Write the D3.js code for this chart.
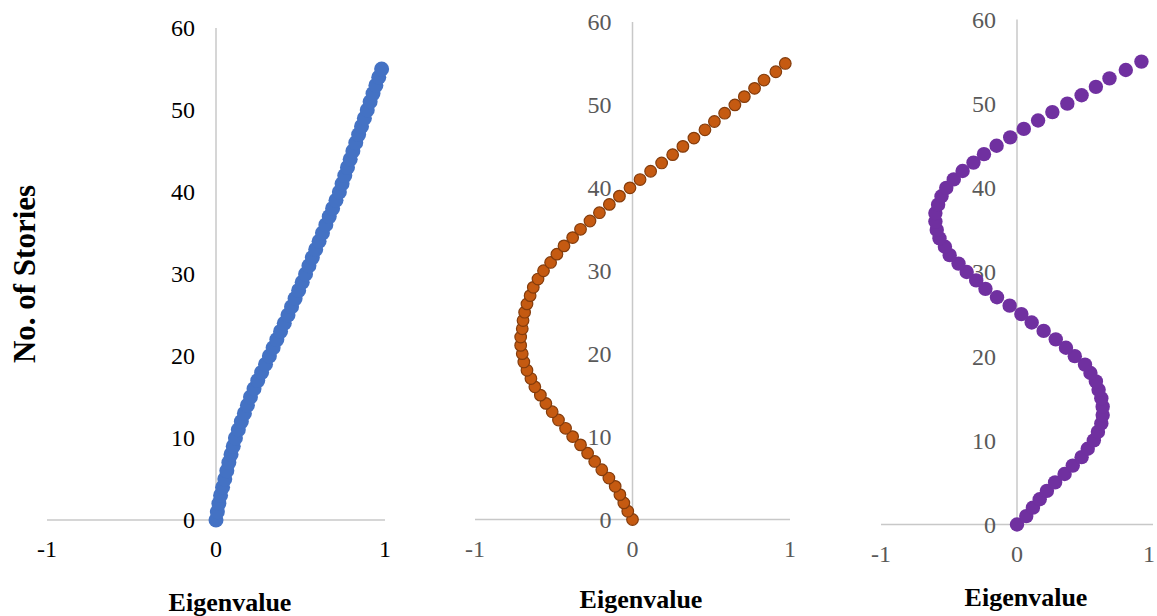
<!DOCTYPE html>
<html>
<head>
<meta charset="utf-8">
<script src="https://cdn.jsdelivr.net/npm/d3@7"></script>
<style>
  html, body { margin: 0; padding: 0; background: #fff; }
  svg { display: block; }
</style>
</head>
<body>
<svg id="chart" width="1157" height="616"></svg>
<script>
// ---- Data ----
const stories = d3.range(0, 56); // 0..55
const mode1 = [0, 0.008, 0.017, 0.027, 0.039, 0.052, 0.064, 0.076, 0.089, 0.102,
  0.115, 0.132, 0.15, 0.168, 0.186, 0.204, 0.225, 0.247, 0.27, 0.293,
  0.316, 0.338, 0.36, 0.382, 0.404, 0.426, 0.447, 0.468, 0.489, 0.51,
  0.53, 0.55, 0.57, 0.59, 0.61, 0.63, 0.65, 0.67, 0.69, 0.71,
  0.73, 0.746, 0.762, 0.778, 0.794, 0.81, 0.827, 0.844, 0.861, 0.878,
  0.895, 0.912, 0.929, 0.946, 0.963, 0.98];
const mode2 = [0, -0.03, -0.055, -0.08, -0.11, -0.15, -0.195, -0.24, -0.285, -0.33,
  -0.38, -0.425, -0.47, -0.51, -0.55, -0.585, -0.62, -0.645, -0.67, -0.69,
  -0.70, -0.71, -0.71, -0.70, -0.695, -0.685, -0.67, -0.65, -0.63, -0.60,
  -0.565, -0.52, -0.48, -0.435, -0.38, -0.33, -0.27, -0.21, -0.147, -0.083,
  -0.016, 0.048, 0.115, 0.185, 0.255, 0.32, 0.39, 0.46, 0.52, 0.585,
  0.65, 0.71, 0.775, 0.835, 0.91, 0.97];
const mode3 = [0, 0.068, 0.117, 0.167, 0.22, 0.28, 0.35, 0.41, 0.475, 0.52,
  0.565, 0.595, 0.62, 0.63, 0.63, 0.62, 0.60, 0.58, 0.54, 0.50,
  0.425, 0.36, 0.285, 0.196, 0.108, 0.032, -0.054, -0.147, -0.232, -0.30,
  -0.37, -0.43, -0.495, -0.53, -0.57, -0.59, -0.60, -0.60, -0.58, -0.555,
  -0.52, -0.465, -0.40, -0.32, -0.243, -0.15, -0.05, 0.05, 0.155, 0.26,
  0.37, 0.475, 0.58, 0.68, 0.80, 0.915];
const xTicks = [-1, 0, 1];
const yTicks = [0, 10, 20, 30, 40, 50, 60];
const xTitle = "Eigenvalue";
const yTitle = "No. of Stories";

// ---- Layout ----
const W = 1157;
const svg = d3.select("#chart");
const serif = "Liberation Serif, Times New Roman, serif";
const panels = [
  { vals: mode1, xr: [47, 385], yr: [520, 28], fill: "#4472C4", stroke: "none", sw: 0, r: 7.5,
    tickColor: "#000000", titleX: 230, titleY: 611 },
  { vals: mode2, xr: [475, 790], yr: [519.5, 22], fill: "#C55A11", stroke: "#843C0C", sw: 1.2, r: 5.8,
    tickColor: "#595959", titleX: 641, titleY: 608 },
  { vals: mode3, xr: [881, 1153], yr: [524.5, 19.5], fill: "#7030A0", stroke: "none", sw: 0, r: 7.2,
    tickColor: "#595959", titleX: 1026, titleY: 606 }
];

panels.forEach(p => {
  const x = d3.scaleLinear().domain([-1, 1]).range(p.xr);
  const y = d3.scaleLinear().domain([0, 60]).range(p.yr);
  const g = svg.append("g");

  // axis lines
  g.append("line")
    .attr("x1", x(-1)).attr("x2", x(1))
    .attr("y1", y(0)).attr("y2", y(0))
    .attr("stroke", "#C8C8C8").attr("stroke-width", 1.5);
  g.append("line")
    .attr("x1", x(0)).attr("x2", x(0))
    .attr("y1", y(0)).attr("y2", y(60))
    .attr("stroke", "#C8C8C8").attr("stroke-width", 1.5);

  // y tick labels
  g.selectAll("text.yt").data(yTicks).join("text")
    .attr("class", "yt")
    .attr("x", x(0) - 21)
    .attr("y", d => y(d))
    .attr("dy", "0.35em")
    .attr("text-anchor", "end")
    .style("font-family", serif)
    .attr("font-size", 24)
    .attr("fill", p.tickColor)
    .text(d => d);

  // x tick labels (kept inside the picture at the right edge)
  g.selectAll("text.xt").data(xTicks).join("text")
    .attr("class", "xt")
    .attr("x", d => Math.min(x(d), W - 8))
    .attr("y", y(0) + 29)
    .attr("dy", "0.35em")
    .attr("text-anchor", "middle")
    .style("font-family", serif)
    .attr("font-size", 24)
    .attr("fill", p.tickColor)
    .text(d => d);

  // markers
  g.selectAll("circle").data(stories).join("circle")
    .attr("cx", (s, i) => x(p.vals[i]))
    .attr("cy", s => y(s))
    .attr("r", p.r)
    .attr("fill", p.fill)
    .attr("stroke", p.stroke)
    .attr("stroke-width", p.sw);

  // x title
  g.append("text")
    .attr("x", p.titleX).attr("y", p.titleY)
    .attr("text-anchor", "middle")
    .style("font-family", serif)
    .attr("font-weight", "bold")
    .attr("font-size", 26)
    .attr("fill", "#000")
    .text(xTitle);
});

// y title
svg.append("text")
  .attr("transform", "translate(35,274) rotate(-90)")
  .attr("text-anchor", "middle")
  .style("font-family", serif)
  .attr("font-weight", "bold")
  .attr("font-size", 31)
  .attr("fill", "#000")
  .text(yTitle);
</script>
</body>
</html>
